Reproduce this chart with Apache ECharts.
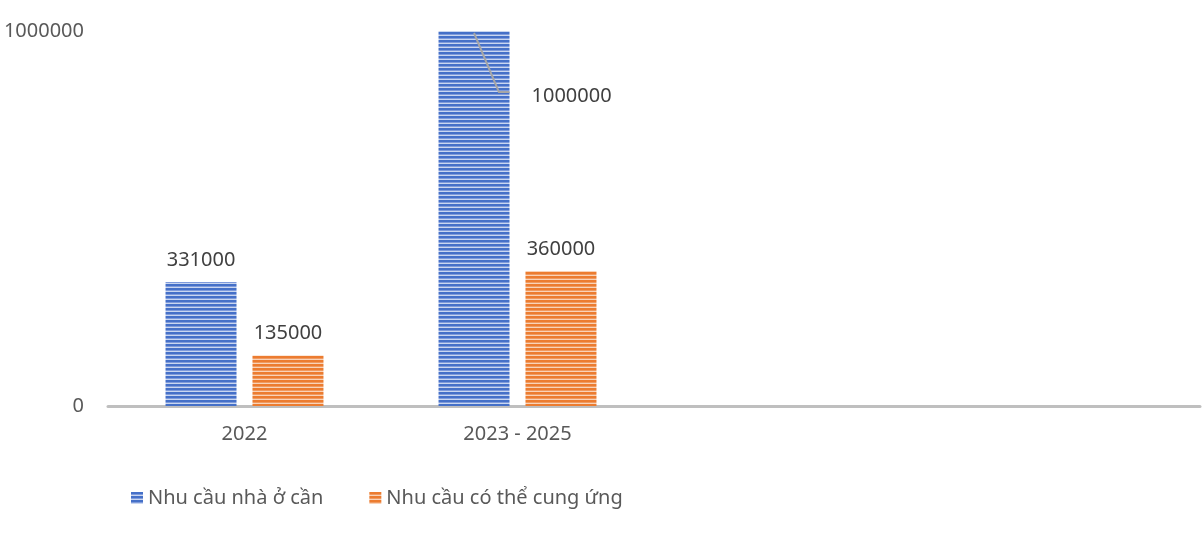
<!DOCTYPE html>
<html><head><meta charset="utf-8">
<script src="https://cdn.jsdelivr.net/npm/echarts@6/dist/echarts.min.js"></script>
<style>html,body{margin:0;padding:0;background:#fff}#c{width:1204px;height:554px}</style>
</head><body><div id="c"></div>
<script>
const categories = ['2022', '2023 - 2025', '', ''];
const seriesNames = ['Nhu cầu nhà ở cần', 'Nhu cầu có thể cung ứng'];
const demand = [331000, 1000000, null, null];
const supply = [135000, 360000, null, null];
const yTicks = [0, 1000000];

function stripe(dark, mid, light) {
  const c = document.createElement('canvas');
  c.width = 4; c.height = 4;
  const g = c.getContext('2d');
  g.fillStyle = dark; g.fillRect(0, 0, 4, 2);
  g.fillStyle = mid; g.fillRect(0, 2, 4, 1);
  g.fillStyle = light; g.fillRect(0, 3, 4, 1);
  return c;
}
const bluePat = {image: stripe('#4570c8', '#7f9bdb', '#c9d6f0'), repeat: 'repeat'};
const orangePat = {image: stripe('#ec7c30', '#f09a60', '#f9d3b8'), repeat: 'repeat'};

const FONT = 'Noto Sans';
const chart = echarts.init(document.getElementById('c'));
const lbl = {show: true, position: 'top', distance: 12, color: '#404040', fontSize: 20, fontFamily: FONT};
chart.setOption({
  animation: false,
  textStyle: {fontFamily: FONT},
  grid: {left: 108, right: 4, top: 31, bottom: 148, containLabel: false, outerBoundsMode: 'none'},
  legend: {
    left: 126, top: 483, itemWidth: 12, itemHeight: 12, itemGap: 46,
    icon: 'rect',
    textStyle: {fontSize: 20, color: '#595959', fontFamily: FONT},
    data: seriesNames
  },
  xAxis: {
    type: 'category', data: categories,
    axisLine: {lineStyle: {color: '#bfbfbf', width: 3}},
    axisTick: {show: false},
    axisLabel: {fontSize: 20, color: '#595959', margin: 18, fontFamily: FONT}
  },
  yAxis: {
    type: 'value', min: yTicks[0], max: yTicks[yTicks.length - 1], interval: 1000000,
    axisLine: {show: false}, axisTick: {show: false}, splitLine: {show: false},
    axisLabel: {fontSize: 20, color: '#595959', margin: 24, fontFamily: FONT, formatter: v => String(v)}
  },
  series: [
    {
      name: seriesNames[0], type: 'bar', data: demand.map((v, i) => i === 1 ? {
        value: v, label: {position: [93, 65], align: 'left', verticalAlign: 'middle'}
      } : v),
      barWidth: '26%', barGap: '22.5%',
      itemStyle: {color: bluePat},
      label: lbl
    },
    {
      name: seriesNames[1], type: 'bar', data: supply,
      barWidth: '26%', barGap: '22.5%',
      itemStyle: {color: orangePat},
      label: lbl
    }
  ]
});
// leader line for the moved label, derived from the bar's layout
const lay = chart.getModel().getSeriesByIndex(0).getData().getItemLayout(1);
const barTop = Math.min(lay.y, lay.y + lay.height);
chart.setOption({
  graphic: [{
    type: 'polyline', silent: true, z: 100,
    shape: {points: [[lay.x + lay.width * 0.5, barTop + 2], [lay.x + lay.width * 0.85, barTop + 61], [lay.x + lay.width, barTop + 61]]},
    style: {stroke: '#a6a6a6', lineWidth: 2, fill: 'none'}
  }]
});
</script></body></html>
